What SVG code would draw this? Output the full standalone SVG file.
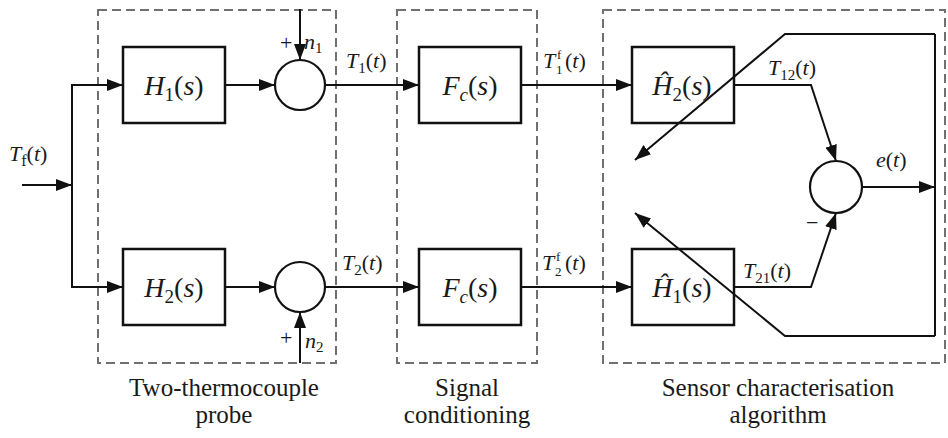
<svg xmlns="http://www.w3.org/2000/svg" width="948" height="438" viewBox="0 0 948 438">
<style>
.grp{fill:none;stroke:#707070;stroke-width:2;stroke-dasharray:9 5}
.blk{fill:#fff;stroke:#111;stroke-width:2.5}
.sum{fill:#fff;stroke:#111;stroke-width:2.2}
.ln{fill:none;stroke:#111;stroke-width:2}
.arr{marker-end:url(#ah)}
text{font-family:"Liberation Serif","Times New Roman",serif;fill:#1a1a1a}
.bl{font-size:28px;text-anchor:middle}
.sg{font-size:22px}
.cap{font-size:25px;text-anchor:middle}
.i{font-style:italic}
</style>
<defs>
<marker id="ah" viewBox="0 0 16 12" refX="16" refY="6" markerWidth="16" markerHeight="12" markerUnits="userSpaceOnUse" orient="auto">
<path d="M0,0 L16,6 L0,12 Z" fill="#111"/>
</marker>
</defs>

<g id="groups">
<rect id="g-probe" class="grp" x="98" y="10" width="238" height="353"/>
<rect id="g-signal" class="grp" x="397" y="10" width="140" height="353"/>
<rect id="g-sensor" class="grp" x="603" y="10" width="342" height="353"/>
</g>

<g id="H1">
<rect class="blk" x="123" y="47" width="102" height="76"/>
<text class="bl" x="174" y="95"><tspan class="i">H</tspan><tspan font-size="19" dy="6">1</tspan><tspan dy="-6">(</tspan><tspan class="i">s</tspan>)</text>
</g>
<g id="H2">
<rect class="blk" x="123" y="249" width="102" height="76"/>
<text class="bl" x="174" y="297"><tspan class="i">H</tspan><tspan font-size="19" dy="6">2</tspan><tspan dy="-6">(</tspan><tspan class="i">s</tspan>)</text>
</g>
<g id="sum1">
<circle class="sum" cx="300" cy="85" r="25"/>
</g>
<g id="sum2">
<circle class="sum" cx="300" cy="287" r="25"/>
</g>
<g id="Fc1">
<rect class="blk" x="419" y="47" width="102" height="76"/>
<text class="bl" x="470" y="95"><tspan class="i">F</tspan><tspan class="i" font-size="19" dy="6">c</tspan><tspan dy="-6">(</tspan><tspan class="i">s</tspan>)</text>
</g>
<g id="Fc2">
<rect class="blk" x="419" y="249" width="102" height="76"/>
<text class="bl" x="470" y="297"><tspan class="i">F</tspan><tspan class="i" font-size="19" dy="6">c</tspan><tspan dy="-6">(</tspan><tspan class="i">s</tspan>)</text>
</g>
<g id="Hhat2">
<rect class="blk" x="632" y="47" width="102" height="76"/>
<text class="bl" x="682" y="95"><tspan class="i">Ĥ</tspan><tspan font-size="19" dy="6">2</tspan><tspan dy="-6">(</tspan><tspan class="i">s</tspan>)</text>
</g>
<g id="Hhat1">
<rect class="blk" x="632" y="249" width="102" height="76"/>
<text class="bl" x="682" y="297"><tspan class="i">Ĥ</tspan><tspan font-size="19" dy="6">1</tspan><tspan dy="-6">(</tspan><tspan class="i">s</tspan>)</text>
</g>
<g id="sum3">
<circle class="sum" cx="836" cy="187" r="26"/>
</g>

<g id="connectors">
<path class="ln arr" d="M22 185 H72"/>
<path class="ln arr" d="M72 185 V85 H123"/>
<path class="ln arr" d="M72 185 V287 H123"/>
<path class="ln arr" d="M225 85 H275"/>
<path class="ln arr" d="M225 287 H275"/>
<path class="ln arr" d="M300 9 V60"/>
<path class="ln arr" d="M300 363 V312"/>
<path class="ln arr" d="M325 85 H419"/>
<path class="ln arr" d="M325 287 H419"/>
<path class="ln arr" d="M521 85 H632"/>
<path class="ln arr" d="M521 287 H632"/>
<path class="ln arr" d="M734 85 H811 L836 161"/>
<path class="ln arr" d="M734 287 H811 L836 213"/>
<path class="ln arr" d="M862 187 H935"/>
<path class="ln" d="M935 34 V336"/>
<path class="ln arr" d="M935 34 H785 L635 160"/>
<path class="ln arr" d="M935 336 H785 L635 213"/>
</g>

<g id="labels">
<text class="sg" x="9" y="161"><tspan class="i">T</tspan><tspan font-size="16" dy="5">f</tspan><tspan dy="-5">(</tspan><tspan class="i">t</tspan>)</text>
<text class="sg" x="280" y="50">+</text>
<text class="sg i" x="304" y="49">n</text><text x="315" y="53" font-size="15">1</text>
<text class="sg" x="280" y="345">+</text>
<text class="sg i" x="305" y="348">n</text><text x="316" y="352" font-size="15">2</text>
<text class="sg" x="346" y="68"><tspan class="i">T</tspan><tspan font-size="15" dy="5">1</tspan><tspan dy="-5">(</tspan><tspan class="i">t</tspan>)</text>
<text class="sg" x="342" y="270"><tspan class="i">T</tspan><tspan font-size="15" dy="5">2</tspan><tspan dy="-5">(</tspan><tspan class="i">t</tspan>)</text>
<text class="sg" x="543" y="68"><tspan class="i">T</tspan><tspan x="556" y="74" font-size="13">1</tspan><tspan x="557" y="59" font-size="13">f</tspan><tspan x="565" y="68">(</tspan><tspan class="i">t</tspan>)</text>
<text class="sg" x="542" y="270"><tspan class="i">T</tspan><tspan x="555" y="276" font-size="13">2</tspan><tspan x="556" y="261" font-size="13">f</tspan><tspan x="565" y="270">(</tspan><tspan class="i">t</tspan>)</text>
<text class="sg" x="768" y="75"><tspan class="i">T</tspan><tspan font-size="15" dy="5">12</tspan><tspan dy="-5">(</tspan><tspan class="i">t</tspan>)</text>
<text class="sg" x="743" y="278"><tspan class="i">T</tspan><tspan font-size="15" dy="5">21</tspan><tspan dy="-5">(</tspan><tspan class="i">t</tspan>)</text>
<text class="sg" x="876" y="167"><tspan class="i">e</tspan>(<tspan class="i">t</tspan>)</text>
<text class="sg" x="806" y="230">−</text>
<text class="cap" x="224" y="396">Two-thermocouple</text>
<text class="cap" x="224" y="423">probe</text>
<text class="cap" x="467" y="396">Signal</text>
<text class="cap" x="467" y="423">conditioning</text>
<text class="cap" x="778" y="396">Sensor characterisation</text>
<text class="cap" x="778" y="423">algorithm</text>
</g>
</svg>
